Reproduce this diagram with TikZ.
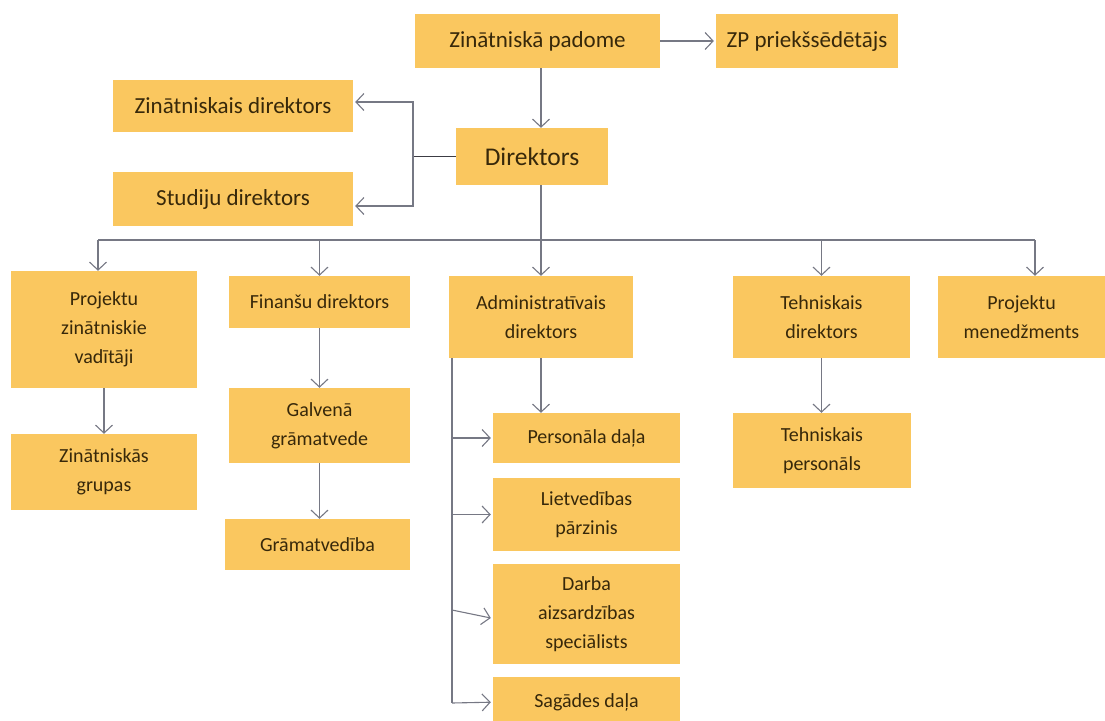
\documentclass[tikz,border=0pt]{standalone}
\usepackage{fontspec}
\setmainfont{Carlito}
\usetikzlibrary{arrows.meta}
\definecolor{boxfill}{RGB}{250,199,95}
\definecolor{txt}{RGB}{55,40,10}
\definecolor{lin}{RGB}{118,120,132}
\definecolor{lindark}{RGB}{60,60,68}
\begin{document}
\begin{tikzpicture}[x=1pt,y=-1pt,
  ob/.style={fill=boxfill, draw=none, inner sep=0pt, text=txt, align=center, font=\fontsize{20}{29}\selectfont},
  big/.style={font=\fontsize{23}{29}\selectfont},
  conn/.style={draw=lin, line width=1.1pt, -{Straight Barb[length=8pt,width=17pt,line width=1.1pt]}},
  plain/.style={draw=lin, line width=1.1pt}
]
\useasboundingbox (0,0) rectangle (1105,720);
% boxes
\node[ob,big,minimum width=245,minimum height=54] (zp) at (537.5,41) {Zinātniskā padome};
\node[ob,big,minimum width=182,minimum height=54] (zpp) at (807,41) {ZP priekšsēdētājs};
\node[ob,big,minimum width=240,minimum height=52] (zd) at (233,106) {Zinātniskais direktors};
\node[ob,big,minimum width=240,minimum height=54] (sd) at (233,199) {Studiju direktors};
\node[ob,font=\fontsize{25.5}{29}\selectfont,minimum width=152,minimum height=57] (dir) at (532,156.5) {Direktors};
\node[ob,minimum width=186,minimum height=117] (pzv) at (104,329.5) {Projektu\\zinātniskie\\vadītāji};
\node[ob,minimum width=181,minimum height=52] (fd) at (319.5,302) {Finanšu direktors};
\node[ob,minimum width=184,minimum height=82] (ad) at (541,317) {Administratīvais\\direktors};
\node[ob,minimum width=177,minimum height=82] (td) at (821.5,317) {Tehniskais\\direktors};
\node[ob,minimum width=167,minimum height=82] (pm) at (1021.5,317) {Projektu\\menedžments};
\node[ob,minimum width=186,minimum height=76] (zg) at (104,472) {Zinātniskās\\grupas};
\node[ob,minimum width=181,minimum height=75] (gg) at (319.5,425.5) {Galvenā\\grāmatvede};
\node[ob,minimum width=185,minimum height=51] (gr) at (317.5,544.5) {Grāmatvedība};
\node[ob,minimum width=187,minimum height=50] (pd) at (586.5,438) {Personāla daļa};
\node[ob,minimum width=187,minimum height=73] (lp) at (586.5,514.5) {Lietvedības\\pārzinis};
\node[ob,minimum width=187,minimum height=100] (da) at (586.5,614) {Darba\\aizsardzības\\speciālists};
\node[ob,minimum width=187,minimum height=50,anchor=north] (sg) at (586.5,677) {Sagādes daļa};
\node[ob,minimum width=178,minimum height=75] (tp) at (822,450.5) {Tehniskais\\personāls};
% connectors
\draw[conn] (zp.east) -- ([xshift=-2]zpp.west);
\draw[conn] (zp.south -| dir.north) ++(9,0) coordinate (a1) (a1) -- (a1 |- dir.north);
\coordinate (j1) at (413,156.5);
\draw[draw=lindark, line width=1.3pt] (dir.west) -- (j1);
\draw[conn] (j1) |- ([xshift=2,yshift=4]zd.east);
\draw[conn] (j1) |- ([xshift=2,yshift=-7]sd.east);
\coordinate (bus) at (541,240);
\draw[plain] (dir.south -| ad.north) -- (bus);
\draw[conn] (bus) -- (ad.north);
\coordinate (busl) at (98,240);
\coordinate (busr) at (1035,240);
\draw[plain] (busl) -- (busr);
\draw[conn] (busl) -- (busl |- pzv.north);
\draw[conn] (fd.north |- bus) -- (fd.north);
\draw[conn] (td.north |- bus) -- (td.north);
\draw[conn] (busr) -- (busr |- pm.north);
\draw[conn] (pzv.south) -- (zg.north);
\draw[conn] (fd.south) -- (gg.north);
\draw[conn] (gg.south) -- (gr.north -| gg.south);
\draw[conn] (ad.south) -- (ad.south |- pd.north);
\draw[conn] (td.south) -- (tp.north -| td.south);
\coordinate (av) at (452,358);
\coordinate (ae) at (452,703);
\draw[plain] (av) -- (ae);
\draw[conn] (av |- pd.west) -- ([xshift=-2]pd.west);
\draw[conn] (av |- lp.west) -- ([xshift=-2]lp.west);
\draw[conn] (452,610) -- ([xshift=-2,yshift=-4]da.west);
\draw[conn] (ae) -- ([xshift=-2]sg.west);
\end{tikzpicture}
\end{document}
